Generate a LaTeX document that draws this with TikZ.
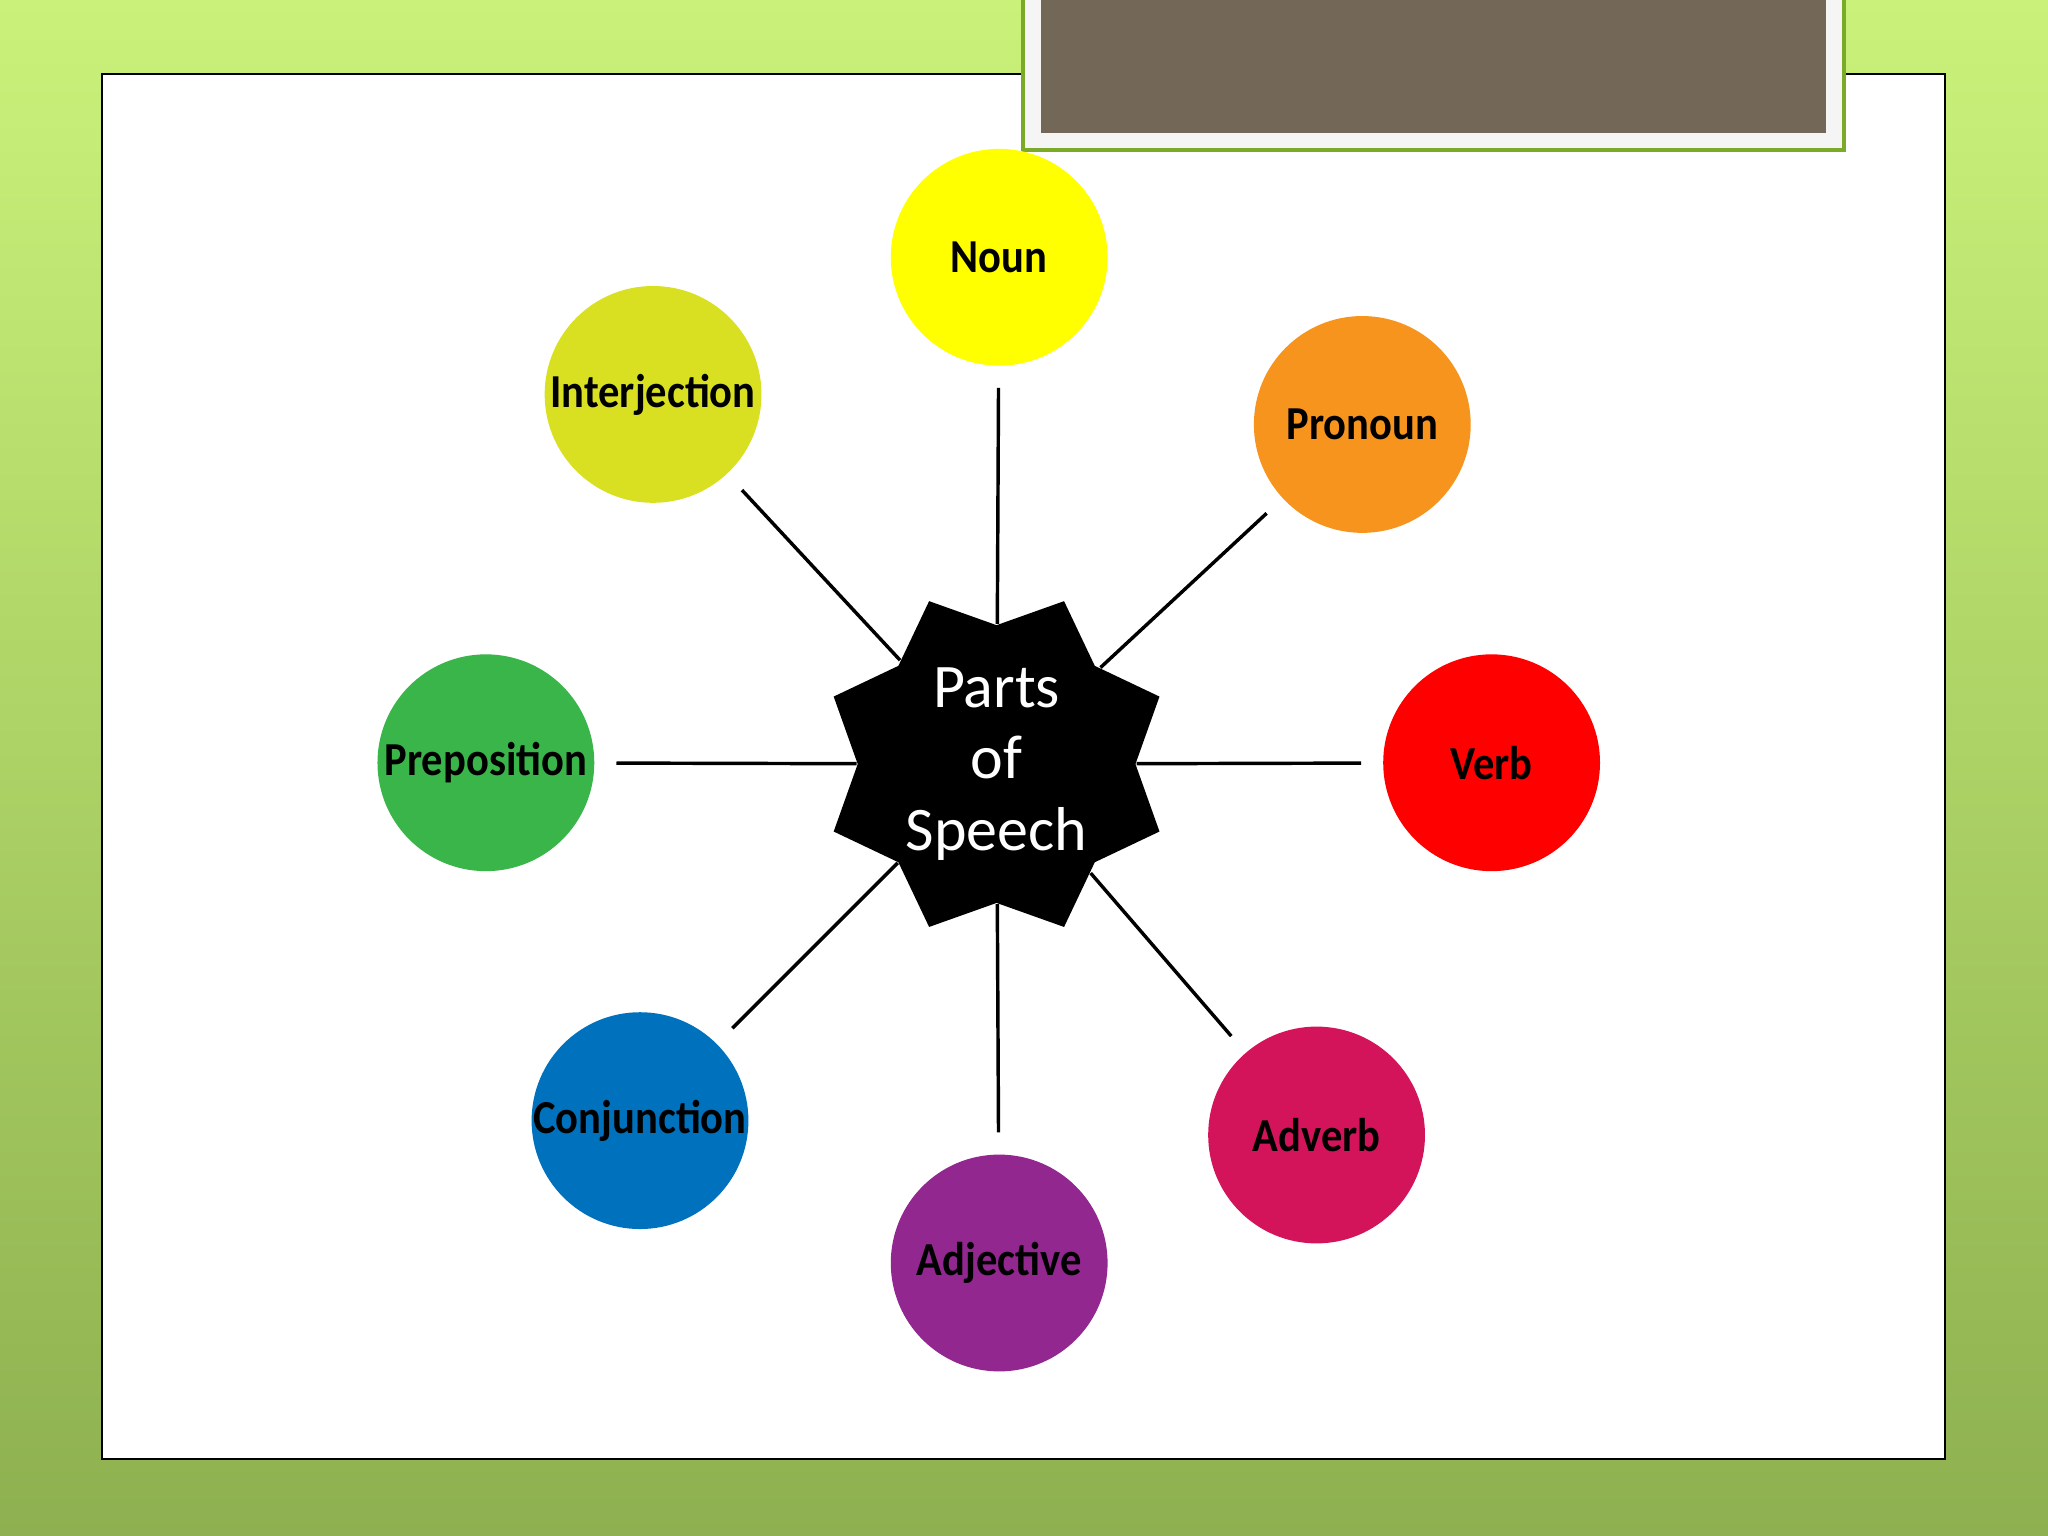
\documentclass[tikz,border=0pt]{standalone}
\usepackage{fontspec}
\setmainfont{Carlito}
\newfontfamily\wordfont[FakeStretch=0.9]{Carlito}
\usetikzlibrary{shapes.geometric}
\definecolor{slidetop}{RGB}{202,242,122}
\definecolor{slidebottom}{RGB}{142,176,80}
\definecolor{framegreen}{RGB}{122,170,40}
\definecolor{titlebrown}{RGB}{115,104,88}
\definecolor{nouncol}{RGB}{255,255,0}
\definecolor{proncol}{RGB}{247,148,29}
\definecolor{verbcol}{RGB}{255,0,0}
\definecolor{advcol}{RGB}{212,20,90}
\definecolor{adjcol}{RGB}{146,39,143}
\definecolor{conjcol}{RGB}{0,113,188}
\definecolor{prepcol}{RGB}{57,181,74}
\definecolor{intcol}{RGB}{217,224,33}
\tikzset{
  wordpart/.style={circle, minimum size=1.66cm, inner sep=0pt, outer sep=0.17cm,
    font=\wordfont\bfseries\fontsize{10.3}{11}\selectfont},
  hubstar/.style={star, star points=8, star point ratio=1.27, shape border rotate=22.5,
    minimum size=2.7cm, inner sep=0pt, fill=black, text=white, align=center,
    font=\fontsize{13.5}{15.6}\selectfont},
  spoke/.style={draw=black, line width=0.75pt}
}
\begin{document}
\begin{tikzpicture}
\useasboundingbox (0,0) rectangle (15.68,11.76);
\shade[top color=slidetop, bottom color=slidebottom] (0,0) rectangle (15.68,11.76);
\filldraw[fill=white, draw=black, line width=0.4pt] (0.78,0.59) rectangle (14.89,11.19);
\filldraw[fill=black!4, draw=framegreen, line width=0.8pt] (7.83,10.61) rectangle (14.12,11.9);
\fill[titlebrown] (7.97,10.74) rectangle (13.98,11.9);

\node[hubstar] (pos) at (7.63,5.91) {Parts\\of\\Speech};

\node[wordpart, fill=nouncol] (noun) at (7.65,9.79) {Noun};
\node[wordpart, fill=proncol] (pronoun) at (10.43,8.51) {Pronoun};
\node[wordpart, fill=verbcol] (verb) at (11.42,5.92) {Verb};
\node[wordpart, fill=advcol] (adverb) at (10.08,3.07) {Adverb};
\node[wordpart, fill=adjcol] (adjective) at (7.65,2.09) {Adjective};
\node[wordpart, fill=conjcol] (conjunction) at (4.90,3.18) {Conjunction};
\node[wordpart, fill=prepcol] (preposition) at (3.72,5.92) {Preposition};
\node[wordpart, fill=intcol] (interjection) at (5.00,8.74) {Interjection};

\draw[spoke] (pos) -- (noun);
\draw[spoke] (pos) -- (pronoun);
\draw[spoke] (pos) -- (verb);
\draw[spoke] (pos) -- (adverb);
\draw[spoke] (pos) -- (adjective);
\draw[spoke] (pos) -- (conjunction);
\draw[spoke] (pos) -- (preposition);
\draw[spoke] (pos) -- (interjection);
\end{tikzpicture}
\end{document}
